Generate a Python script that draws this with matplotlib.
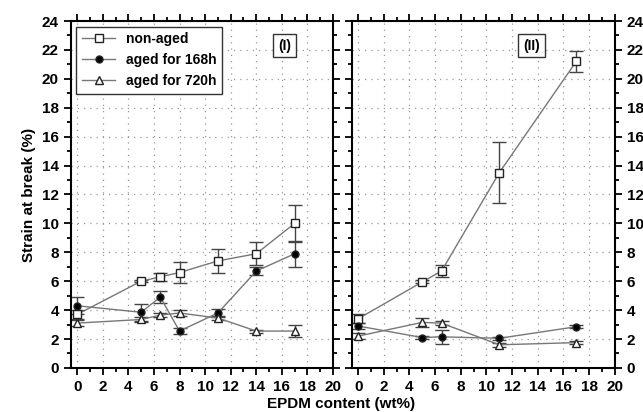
import matplotlib.pyplot as plt
from matplotlib.lines import Line2D
from matplotlib.ticker import MultipleLocator

plt.rcParams['font.family'] = ['Liberation Sans', 'DejaVu Sans']
plt.rcParams['font.weight'] = 'bold'

# === DATOS === #
x_I = [0, 5, 6.5, 8, 11, 14, 17]
noaged_I = [3.7, 6.0, 6.3, 6.6, 7.4, 7.9, 10.0]
noaged_I_err = [0.3, 0.08, 0.3, 0.75, 0.8, 0.8, 1.3]
aged168_I = [4.3, 3.85, 4.9, 2.55, 3.8, 6.7, 7.9]
aged168_I_err = [0.6, 0.6, 0.4, 0.2, 0.3, 0.3, 0.9]
aged720_I = [3.1, 3.35, 3.65, 3.8, 3.45, 2.55, 2.55]
aged720_I_err = [0.2, 0.2, 0.15, 0.2, 0.15, 0.1, 0.4]

x_II = [0, 5, 6.5, 11, 17]
noaged_II = [3.4, 5.95, 6.7, 13.5, 21.2]
noaged_II_err = [0.3, 0.1, 0.4, 2.1, 0.7]
aged168_II = [2.9, 2.1, 2.15, 2.05, 2.85]
aged168_II_err = [0.2, 0.1, 0.5, 0.1, 0.1]
aged720_II = [2.2, 3.15, 3.1, 1.6, 1.75]
aged720_II_err = [0.2, 0.3, 0.15, 0.15, 0.1]

labels = ["non-aged", "aged for 168h", "aged for 720h"]
markers = ["s", "o", "^"]
facecolors = ["white", "black", "white"]
tamanos = [6, 5, 6]

fig = plt.figure(figsize=(6.43, 4.12), dpi=100)
ax1 = fig.add_axes([0.110, 0.107, 0.408, 0.842])
ax2 = fig.add_axes([0.547, 0.107, 0.409, 0.842])


def dibujar(ax, x, series, errores):
    for y, e, m, fc, ms in zip(series, errores, markers, facecolors, tamanos):
        ax.errorbar(x, y, yerr=e, marker=m, ms=ms, mfc=fc, mec="#222222",
                    color="#777777", ecolor="#444444", lw=1, elinewidth=1,
                    capsize=5, capthick=1)
    ax.set_xlim(-0.5, 20)
    ax.set_ylim(0, 24)
    ax.xaxis.set_major_locator(MultipleLocator(2))
    ax.xaxis.set_minor_locator(MultipleLocator(1))
    ax.yaxis.set_major_locator(MultipleLocator(2))
    ax.yaxis.set_minor_locator(MultipleLocator(1))
    ax.grid(True, which="major", linestyle=(0, (1, 4)), color="#999999", lw=0.9)
    ax.set_axisbelow(True)
    for s in ax.spines.values():
        s.set_linewidth(1.5)
    ax.tick_params(which="both", labelsize=11, width=1.3, top=True, right=True)
    ax.tick_params(which="major", length=5)
    ax.tick_params(which="minor", length=3)
    ax.tick_params(axis="x", which="both", top=True, direction="out")
    for t in ax.get_xticklabels() + ax.get_yticklabels():
        t.set_fontweight("bold")


dibujar(ax1, x_I, [noaged_I, aged168_I, aged720_I],
        [noaged_I_err, aged168_I_err, aged720_I_err])
dibujar(ax2, x_II, [noaged_II, aged168_II, aged720_II],
        [noaged_II_err, aged168_II_err, aged720_II_err])

ax2.yaxis.tick_right()
ax2.yaxis.set_ticks_position("both")
ax2.tick_params(axis="y", labelleft=False, labelright=True)

ax1.set_ylabel("Strain at break (%)", fontsize=11, fontweight="bold")
fig.text(0.53, 0.01, "EPDM content (wt%)", ha="center", fontsize=11,
         fontweight="bold")

handles = [Line2D([], [], marker=m, ms=ms, mfc=fc, mec="#222222",
                  color="#777777", lw=1)
           for m, fc, ms in zip(markers, facecolors, tamanos)]
ax1.legend(handles, labels, loc="upper left", fontsize=10, frameon=True,
           fancybox=False, edgecolor="#333333", borderaxespad=0.4,
           handlelength=2.4, framealpha=1)

caja = dict(boxstyle="square,pad=0.35", fc="white", ec="#333333", lw=1)
ax1.text(16.2, 22.3, "(I)", ha="center", va="center", fontsize=10,
         fontweight="bold", bbox=caja)
ax2.text(13.5, 22.3, "(II)", ha="center", va="center", fontsize=10,
         fontweight="bold", bbox=caja)

plt.savefig("out.png")
